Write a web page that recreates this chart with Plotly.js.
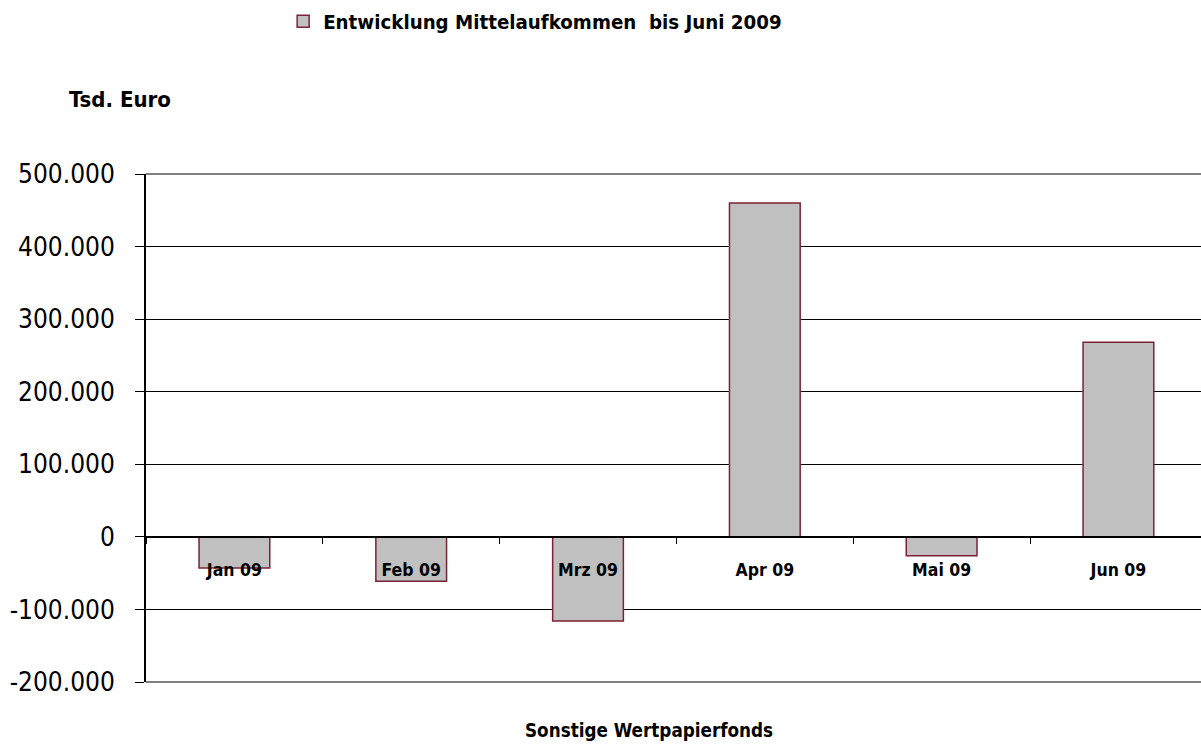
<!DOCTYPE html>
<html>
<head>
<meta charset="utf-8">
<script src="https://cdn.plot.ly/plotly-3.0.1.min.js"></script>
<style>
html,body{margin:0;padding:0;background:#fff;}
#chart{width:1201px;height:747px;}
</style>
</head>
<body>
<div id="chart"></div>
<script>
const categories = ['Jan 09', 'Feb 09', 'Mrz 09', 'Apr 09', 'Mai 09', 'Jun 09'];
const values = [-43000, -61000, -116000, 460000, -26000, 268000];
const seriesName = 'Entwicklung Mittelaufkommen  bis Juni 2009';
const yTickVals = [-200000, -100000, 0, 100000, 200000, 300000, 400000, 500000];
const yTickText = ['-200.000', '-100.000', '0', '100.000', '200.000', '300.000', '400.000', '500.000'];
const unitLabel = 'Tsd. Euro';
const xTitle = 'Sonstige Wertpapierfonds';

const FONT = 'DejaVu Sans Condensed, DejaVu Sans, sans-serif';
const yMin = -200000, yMax = 500000;

const trace = {
  type: 'bar',
  x: categories,
  y: values,
  name: seriesName,
  width: 0.4,
  marker: {color: '#C0C0C0', line: {color: '#7B2335', width: 1.5}},
  showlegend: true,
  hoverinfo: 'x+y'
};

const layout = {
  width: 1201,
  height: 747,
  margin: {l: 146, r: 0, t: 174, b: 65, pad: 0},
  paper_bgcolor: '#ffffff',
  plot_bgcolor: '#ffffff',
  font: {family: FONT, color: '#000000'},
  showlegend: true,
  legend: {
    orientation: 'h',
    x: 0.13, xanchor: 'left',
    y: 1.30, yanchor: 'middle',
    font: {family: FONT, size: 20.3, color: '#000', weight: 'bold'},
    itemwidth: 30,
    bgcolor: 'rgba(0,0,0,0)'
  },
  xaxis: {
    type: 'category',
    range: [-0.5, 5.467],
    anchor: 'free',
    position: (0 - yMin) / (yMax - yMin),
    showline: true, linecolor: '#000', linewidth: 2,
    ticks: 'outside', ticklen: 6, tickwidth: 1, tickcolor: '#000',
    tickson: 'boundaries',
    showgrid: false,
    zeroline: false,
    tickfont: {family: FONT, size: 17.5, color: '#000', weight: 'bold'},
    ticklabelstandoff: 17,
    fixedrange: true
  },
  yaxis: {
    range: [yMin, yMax],
    domain: [0, 1],
    tickvals: yTickVals,
    ticktext: yTickText,
    showline: true, linecolor: '#000', linewidth: 2,
    ticks: 'outside', ticklen: 9, tickwidth: 1, tickcolor: '#000',
    showgrid: true, gridcolor: '#000', gridwidth: 1,
    zeroline: false,
    tickfont: {family: FONT, size: 26, color: '#000'},
    ticklabelstandoff: 15,
    fixedrange: true
  },
  shapes: [
    {type: 'line', xref: 'paper', yref: 'paper', x0: 0, x1: 1, y0: 1, y1: 1, line: {color: '#808080', width: 2}},
    {type: 'line', xref: 'paper', yref: 'paper', x0: 0, x1: 1, y0: 0, y1: 0, line: {color: '#808080', width: 2}}
  ],
  annotations: [
    {text: '<b>' + unitLabel + '</b>', xref: 'paper', yref: 'paper', x: -0.0749, y: 1.1457,
     xanchor: 'left', yanchor: 'middle', showarrow: false, font: {family: FONT, size: 22, color: '#000'}},
    {text: '<b>' + xTitle + '</b>', xref: 'paper', yref: 'paper', x: 0.4768, y: -0.0945,
     xanchor: 'center', yanchor: 'middle', showarrow: false, font: {family: FONT, size: 18.7, color: '#000'}}
  ]
};

Plotly.newPlot('chart', [trace], layout, {displayModeBar: false, staticPlot: true});
</script>
</body>
</html>
